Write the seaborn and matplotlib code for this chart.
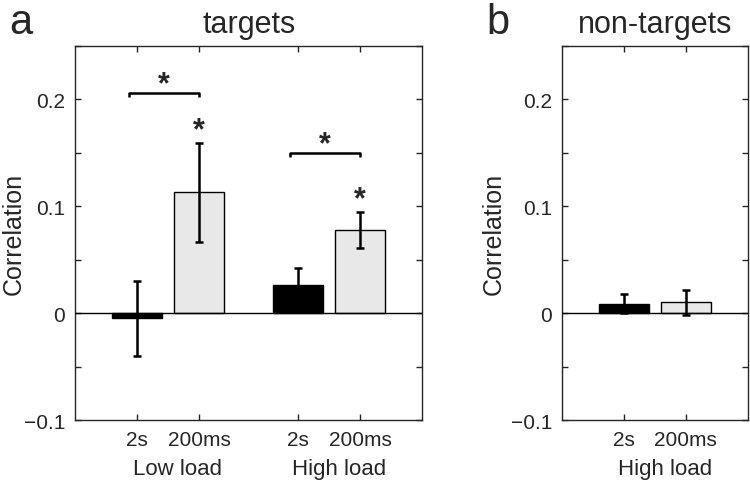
import pandas as pd
import numpy as np
import matplotlib
matplotlib.use('Agg')
import matplotlib.pyplot as plt
import matplotlib.transforms as mtransforms
from matplotlib.ticker import MultipleLocator
import seaborn as sns

sns.set_style("ticks")
plt.rcParams['font.family'] = ['Liberation Sans', 'DejaVu Sans']
plt.rcParams['axes.unicode_minus'] = True

# Datos
loads_a = ['Low load', 'Low load', 'High load', 'High load']
delays_a = ['2s', '200ms', '2s', '200ms']
mean_a = [-0.005, 0.113, 0.026, 0.078]
sem_a = [0.035, 0.046, 0.016, 0.017]

loads_b = ['High load', 'High load']
delays_b = ['2s', '200ms']
mean_b = [0.009, 0.010]
sem_b = [0.009, 0.012]

# comparaciones significativas: (carga, altura del corchete)
brackets_a = [('Low load', 0.206), ('High load', 0.150)]

palette = {'2s': 'black', '200ms': '#e8e8e8'}
group_gap = 2.6


def build_df(loads, delays, means, sems):
    order = list(dict.fromkeys(loads))
    df = pd.DataFrame({'load': loads, 'delay': delays, 'corr': means, 'sem': sems})
    df['pos'] = [order.index(l) * group_gap + ['2s', '200ms'].index(d) + 1
                 for l, d in zip(loads, delays)]
    return df, order


def draw_panel(ax, df, order, title, xmax, ylab_x):
    sns.barplot(data=df, x='pos', y='corr', hue='delay', palette=palette,
                native_scale=True, dodge=False, errorbar=None, width=0.8,
                edgecolor='black', linewidth=1, legend=False, ax=ax)
    ax.errorbar(df['pos'], df['corr'], yerr=df['sem'], fmt='none',
                ecolor='black', elinewidth=1.8, capsize=3, capthick=1.8, zorder=5)
    ax.axhline(0, color='black', linewidth=1, zorder=4)
    ax.set_xlim(0, xmax)
    ax.set_ylim(-0.1, 0.25)
    ax.set_xticks(df['pos'])
    ax.set_xticklabels(df['delay'])
    ax.set_yticks([-0.1, 0, 0.1, 0.2])
    ax.set_yticklabels(['\u22120.1', '0', '0.1', '0.2'])
    ax.yaxis.set_minor_locator(MultipleLocator(0.05))
    ax.tick_params(which='both', direction='in', top=True, right=True,
                   length=4, width=1, labelsize=15, pad=7)
    for s in ax.spines.values():
        s.set_visible(True)
        s.set_linewidth(1)
    ax.set_xlabel('')
    ax.set_ylabel('Correlation', fontsize=18)
    ax.yaxis.set_label_coords(ylab_x, 0.5)
    ax.set_title(title, fontsize=22, pad=10)
    trans = mtransforms.blended_transform_factory(ax.transData, ax.transAxes)
    for i, l in enumerate(order):
        xc = i * group_gap + 1.5 + 0.16
        ax.text(xc, -0.13, l, transform=trans, ha='center', va='center', fontsize=16)


fig = plt.figure(figsize=(7.5, 4.89), dpi=100)
ax1 = fig.add_axes([0.100, 0.139, 0.463, 0.765])
ax2 = fig.add_axes([0.749, 0.139, 0.248, 0.765])

df_a, order_a = build_df(loads_a, delays_a, mean_a, sem_a)
df_b, order_b = build_df(loads_b, delays_b, mean_b, sem_b)

draw_panel(ax1, df_a, order_a, 'targets', 5.6, -0.142)
draw_panel(ax2, df_b, order_b, 'non-targets', 3.0, -0.30)

# Asteriscos sobre barras de 200ms
for _, row in df_a[df_a['delay'] == '200ms'].iterrows():
    ax1.text(row['pos'], row['corr'] + row['sem'] + 0.012, '*', ha='center',
             va='center', fontsize=22, fontweight='bold')

# Corchetes de comparacion
for load, yb in brackets_a:
    sub = df_a[df_a['load'] == load]
    x0 = sub['pos'].min() - 0.13
    x1 = sub['pos'].max()
    ax1.plot([x0, x0, x1, x1], [yb - 0.004, yb, yb, yb - 0.004], color='black',
             linewidth=1.8, solid_capstyle='butt', clip_on=False)
    ax1.text((x0 + x1) / 2, yb + 0.008, '*', ha='center', va='center',
             fontsize=22, fontweight='bold')

fig.text(0.012, 0.93, 'a', fontsize=30, va='baseline', ha='left')
fig.text(0.648, 0.93, 'b', fontsize=30, va='baseline', ha='left')

plt.savefig('out.png', dpi=100)
